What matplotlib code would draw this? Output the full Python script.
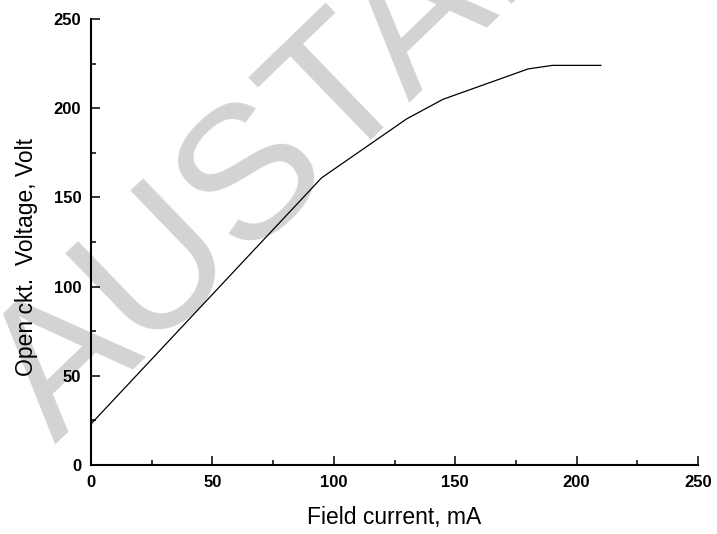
import numpy as np
import matplotlib
matplotlib.use("Agg")
import matplotlib.pyplot as plt
from matplotlib.ticker import MultipleLocator

# open circuit characteristic
field_current = [0, 95, 130, 145, 180, 190, 210]
oc_voltage = [23, 161, 194, 205, 222, 224, 224]

x_ticks = [0, 50, 100, 150, 200, 250]
y_ticks = [0, 50, 100, 150, 200, 250]

plt.rcParams['font.family'] = ['Liberation Sans', 'DejaVu Sans']

fig = plt.figure(figsize=(7.17, 5.34), dpi=100)
ax = fig.add_axes([91/717, 1 - 465/534, (698-91)/717, (465-19)/534])
ax.set_facecolor('none')

# watermark behind everything
fig.text(0.077, 0.167, "AUSTAL", fontsize=137, color='#d3d3d3',
         rotation=44, rotation_mode='anchor', ha='left', va='baseline', zorder=-5)

ax.plot(field_current, oc_voltage, color='black', lw=0.9)

ax.set_xlim(0, 250)
ax.set_ylim(0, 250)
ax.set_xticks(x_ticks)
ax.set_yticks(y_ticks)
ax.xaxis.set_minor_locator(MultipleLocator(25))
ax.yaxis.set_minor_locator(MultipleLocator(25))

for s in ['top', 'right']:
    ax.spines[s].set_visible(False)
for s in ['left', 'bottom']:
    ax.spines[s].set_linewidth(1.5)

ax.tick_params(which='major', direction='in', length=6.5, width=1.1, labelsize=12, pad=7)
ax.tick_params(which='minor', direction='in', length=3.6, width=1.1)
for lab in ax.get_xticklabels() + ax.get_yticklabels():
    lab.set_fontweight('bold')

ax.set_xlabel("Field current, mA", fontsize=16.5, labelpad=12)
ax.set_ylabel("Open ckt.  Voltage, Volt", fontsize=16.5)
ax.yaxis.set_label_coords(-0.088, 0.466)

fig.savefig("out.png", dpi=100)
